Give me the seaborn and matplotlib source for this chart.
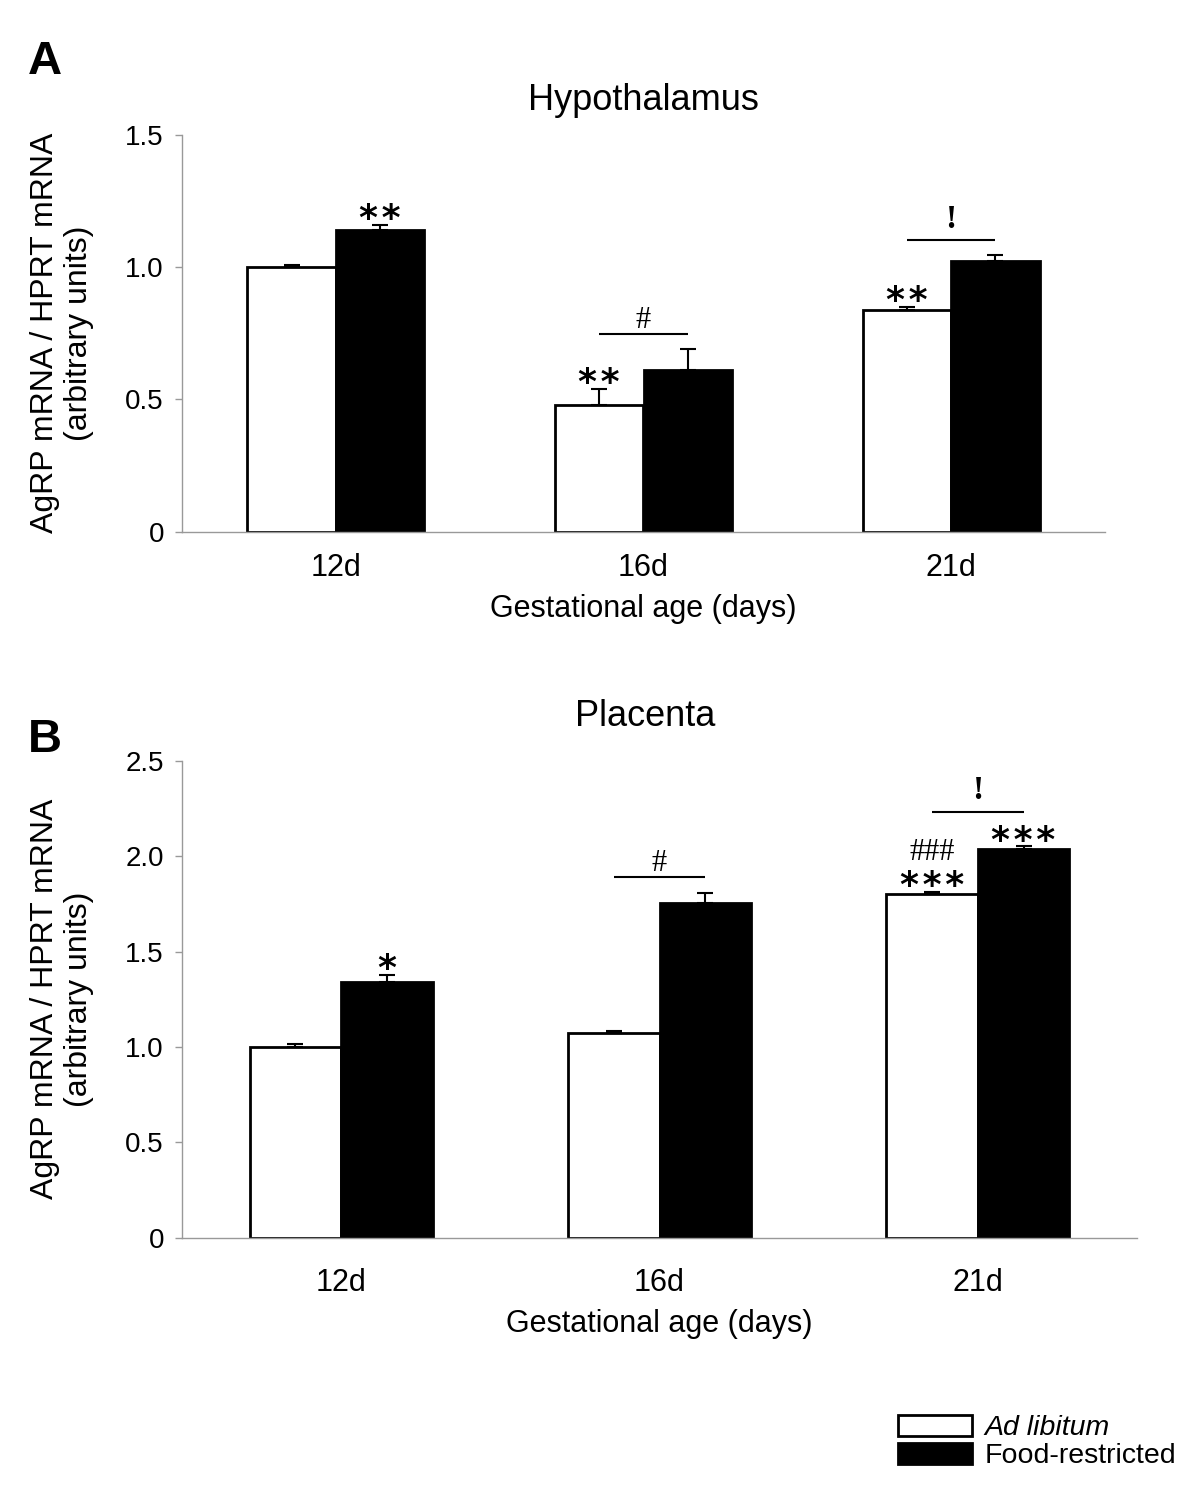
import numpy as np
import pandas as pd
import matplotlib
matplotlib.use("Agg")
import matplotlib.pyplot as plt
import matplotlib.transforms as mtransforms
from matplotlib.patches import Patch
import seaborn as sns

# data
ages = ["12d", "16d", "21d"]
groups = ["Ad libitum", "Food-restricted"]

hypo_adlib = [1.00, 0.48, 0.84]
hypo_fr = [1.14, 0.61, 1.025]
hypo_adlib_err = [0.01, 0.06, 0.01]
hypo_fr_err = [0.02, 0.08, 0.02]

plac_adlib = [1.00, 1.075, 1.80]
plac_fr = [1.342, 1.753, 2.037]
plac_adlib_err = [0.017, 0.01, 0.014]
plac_fr_err = [0.037, 0.056, 0.016]

# significance marks above each bar (bottom to top) and over each pair
hypo_adlib_sig = [[], ["**"], ["**"]]
hypo_fr_sig = [["**"], [], []]
hypo_pair_sig = ["", "#", "!"]
plac_adlib_sig = [[], [], ["***", "###"]]
plac_fr_sig = [["*"], [], ["***"]]
plac_pair_sig = ["", "#", "!"]

sns.set_style("ticks")
plt.rcParams["font.family"] = ["Liberation Sans", "DejaVu Sans"]
plt.rcParams["text.color"] = "black"
plt.rcParams["axes.labelcolor"] = "black"
plt.rcParams["xtick.labelcolor"] = "black"
plt.rcParams["ytick.labelcolor"] = "black"

W, H = 1200, 1510
fig = plt.figure(figsize=(W / 100, H / 100), dpi=100)
axA = fig.add_axes([182 / W, 1 - 531.7 / H, 923 / W, 396.7 / H])
axB = fig.add_axes([182 / W, 1 - 1237.7 / H, 955 / W, 476.7 / H])


def sig_style(s):
    if "*" in s:
        return dict(family="DejaVu Sans", fontsize=26, fontweight="bold")
    if "!" in s:
        return dict(family="Liberation Serif", fontsize=24, fontweight="bold")
    return dict(family="Liberation Serif", fontsize=22)


def spaced(s):
    # stars in the reference stand a little apart
    return "\u200a".join(s) if "*" in s else s


def draw_panel(ax, adlib, fr, adlib_err, fr_err, adlib_sig, fr_sig, pair_sig,
               ymax, tick_pad, xlabel_pad):
    df = pd.DataFrame({
        "age": ages * 2,
        "group": [groups[0]] * 3 + [groups[1]] * 3,
        "value": adlib + fr,
    })
    sns.barplot(data=df, x="age", y="value", hue="group", order=ages,
                hue_order=groups, palette=["white", "black"], saturation=1,
                edgecolor="black", linewidth=2, width=0.575, errorbar=None,
                legend=False, ax=ax)

    bars = sorted(ax.patches, key=lambda p: p.get_x())
    centers = [p.get_x() + p.get_width() / 2 for p in bars]
    tops = [p.get_height() for p in bars]
    errs = [e for pair in zip(adlib_err, fr_err) for e in pair]
    sigs = [s for pair in zip(adlib_sig, fr_sig) for s in pair]
    ax.errorbar(centers, tops, yerr=[np.zeros(len(errs)), errs], fmt="none",
                ecolor="black", elinewidth=1.5, capsize=5.8, capthick=1.5,
                zorder=3)

    def off(dy):
        return mtransforms.offset_copy(ax.transData, fig=fig, x=0, y=dy,
                                       units="points")

    err_tops = [t + e for t, e in zip(tops, errs)]
    for cx, et, marks in zip(centers, err_tops, sigs):
        for n, s in enumerate(marks):
            ax.text(cx, et, spaced(s), transform=off(4 + 24 * n), ha="center",
                    va="center", **sig_style(s))

    for i, s in enumerate(pair_sig):
        if not s:
            continue
        x1, x2 = centers[2 * i], centers[2 * i + 1]
        y = max(err_tops[2 * i], err_tops[2 * i + 1])
        dy = 25 if fr_sig[i] else 11
        ax.plot([x1, x2], [y, y], color="black", lw=1.5, transform=off(dy),
                solid_capstyle="butt")
        ax.text((x1 + x2) / 2, y, s, transform=off(dy + (15 if s == "!" else 10)),
                ha="center", va="center", **sig_style(s))

    ax.set_xlim(-0.5, 2.5)
    ax.set_ylim(0, ymax)
    yt = np.arange(0, ymax + 0.01, 0.5)
    ax.set_yticks(yt)
    ax.set_yticklabels(["0"] + [f"{v:.1f}" for v in yt[1:]])
    ax.tick_params(axis="y", length=5, width=1, color="#999999", pad=8,
                   labelsize=20)
    ax.tick_params(axis="x", length=0, pad=tick_pad, labelsize=22)
    for s in ["top", "right"]:
        ax.spines[s].set_visible(False)
    for s in ["left", "bottom"]:
        ax.spines[s].set_color("#999999")
        ax.spines[s].set_linewidth(1)
    ax.set_ylabel("")
    ax.set_xlabel("Gestational age (days)", fontsize=22, labelpad=xlabel_pad)


draw_panel(axA, hypo_adlib, hypo_fr, hypo_adlib_err, hypo_fr_err,
           hypo_adlib_sig, hypo_fr_sig, hypo_pair_sig, 1.5, 15.5, 8)
draw_panel(axB, plac_adlib, plac_fr, plac_adlib_err, plac_fr_err,
           plac_adlib_sig, plac_fr_sig, plac_pair_sig, 2.5, 21.5, 8)

ylab = "AgRP mRNA / HPRT mRNA\n(arbitrary units)"
fig.text(62 / W, 1 - 333 / H, ylab, rotation=90, ha="center", va="center",
         fontsize=23)
fig.text(62 / W, 1 - 999 / H, ylab, rotation=90, ha="center", va="center",
         fontsize=23)

fig.text(643 / W, 1 - 100 / H, "Hypothalamus", ha="center", va="center",
         fontsize=26)
fig.text(645 / W, 1 - 716 / H, "Placenta", ha="center", va="center",
         fontsize=26)

fig.text(28 / W, 1 - 62 / H, "A", ha="left", va="center", fontsize=34,
         fontweight="bold")
fig.text(28 / W, 1 - 740 / H, "B", ha="left", va="center", fontsize=34,
         fontweight="bold")

handles = [Patch(facecolor="white", edgecolor="black", linewidth=2),
           Patch(facecolor="black", edgecolor="black", linewidth=2)]
leg = fig.legend(handles, groups, loc="upper left",
                 bbox_to_anchor=(898 / W, 1 - 1415 / H), frameon=False,
                 fontsize=20.5, handlelength=2.6, handleheight=0.75,
                 labelspacing=0.05, handletextpad=0.45, borderpad=0,
                 borderaxespad=0)
leg.get_texts()[0].set_style("italic")

fig.savefig("out.png", dpi=100)
